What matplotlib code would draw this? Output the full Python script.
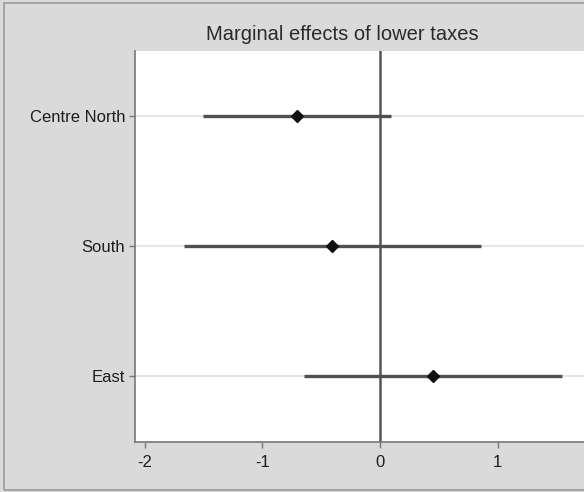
import matplotlib
matplotlib.use("Agg")
import matplotlib.pyplot as plt
from matplotlib.patches import Rectangle

# Données
regions = ["Centre North", "South", "East"]
effets = [-0.71, -0.41, 0.45]
ic_bas = [-1.51, -1.67, -0.65]
ic_haut = [0.09, 0.86, 1.55]
xticks = [-2, -1, 0, 1]

police = ["Liberation Sans Narrow", "Liberation Sans", "DejaVu Sans"]
fond = "#dadada"

fig = plt.figure(figsize=(5.84, 4.92), dpi=100, facecolor=fond)
ax = fig.add_axes([135 / 584, 50.5 / 492, 449 / 584, 390.5 / 492])
ax.set_facecolor("white")

pos = list(range(len(regions)))

# Lignes de grille horizontales
for y in pos:
    ax.axhline(y, color="#e6e6e6", lw=1.5, zorder=1)

# Ligne verticale à zéro
ax.axvline(0, color="#555555", lw=1.8, zorder=2)

# Intervalles de confiance et estimations
ax.hlines(pos, ic_bas, ic_haut, color="#505050", lw=2.4, zorder=3)
ax.plot(effets, pos, "D", color="#111111", markersize=6.5, zorder=4)

ax.set_ylim(len(regions) - 0.5, -0.5)
ax.set_xlim(-2.085, 1.736)
ax.set_yticks(pos)
ax.set_yticklabels(regions)
ax.set_xticks(xticks)
ax.set_xticklabels([str(t) for t in xticks])

for lab in ax.get_yticklabels() + ax.get_xticklabels():
    lab.set_family(police)
    lab.set_fontsize(12)
    lab.set_color("#1e1e1e")

ax.tick_params(axis="y", length=4, width=1, color="#777777", pad=3)
ax.tick_params(axis="x", length=4, width=1, color="#777777", pad=6)

for side in ["top", "right"]:
    ax.spines[side].set_visible(False)
for side in ["left", "bottom"]:
    ax.spines[side].set_color("#777777")
    ax.spines[side].set_linewidth(1.2)

fig.text(342 / 584, 1 - 35 / 492, "Marginal effects of lower taxes",
         ha="center", va="center", fontsize=14.5, family=police, color="#2a2a2a")

# Cadre extérieur
fig.patches.append(Rectangle((4 / 584, 2 / 492), 1.0, 1 - 5 / 492,
                             transform=fig.transFigure, fill=False,
                             edgecolor="#9a9a9a", lw=1.2))

fig.savefig("out.png", dpi=100, facecolor=fond)
